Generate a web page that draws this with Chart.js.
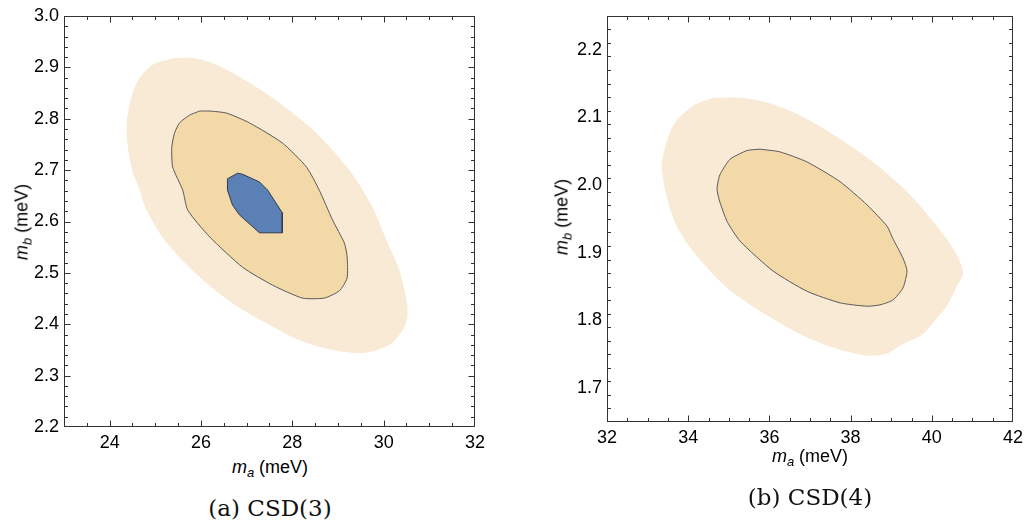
<!DOCTYPE html>
<html>
<head>
<meta charset="utf-8">
<script src="https://cdn.jsdelivr.net/npm/chart.js@4.4.1/dist/chart.umd.min.js"></script>
<style>
  body { margin: 0; background: #fff; }
  #wrap { position: relative; width: 1030px; height: 523px; overflow: hidden; }
  .box { position: absolute; }
  .lbl { position: absolute; font-family: "Liberation Sans", Arial, sans-serif; font-size: 18px; color: #000; white-space: nowrap; transform: translate(-50%, -50%); }
  .lbl sub { font-size: 13px; vertical-align: -4px; line-height: 0; }
  .rot { transform: translate(-50%, -50%) rotate(-90deg); }
  .cap { position: absolute; font-family: "DejaVu Serif", "Liberation Serif", serif; font-size: 23px; color: #111; white-space: nowrap; transform: translate(-50%, -50%); }
</style>
</head>
<body>
<div id="wrap">
  <div class="box" style="left:0;top:0"><canvas id="csd3" width="490" height="455"></canvas></div>
  <div class="box" style="left:540px;top:0"><canvas id="csd4" width="490" height="450"></canvas></div>

  <div class="lbl" style="left:270px;top:467px"><i>m</i><sub><i>a</i></sub> (meV)</div>
  <div class="lbl rot" style="left:22px;top:222px"><i>m</i><sub><i>b</i></sub> (meV)</div>
  <div class="cap" style="left:270px;top:508px">(a) CSD(3)</div>

  <div class="lbl" style="left:810px;top:456px"><i>m</i><sub><i>a</i></sub> (meV)</div>
  <div class="lbl rot" style="left:562px;top:217px"><i>m</i><sub><i>b</i></sub> (meV)</div>
  <div class="cap" style="left:810px;top:497px">(b) CSD(4)</div>
</div>

<script>
// CSD(3) contours (m_a, m_b in meV)
const csd3OuterMa = [25.38, 25.86, 26.34, 27.06, 27.78, 28.53, 29.25, 29.73, 30.06, 30.34, 30.51, 30.49, 30.19, 29.79, 29.47, 28.88, 28.16, 27.43, 26.69, 25.97, 25.25, 24.81, 24.62, 24.51, 24.38, 24.40, 24.59, 24.94];
const csd3OuterMb = [2.918, 2.918, 2.905, 2.870, 2.827, 2.772, 2.700, 2.632, 2.564, 2.506, 2.441, 2.402, 2.364, 2.348, 2.344, 2.350, 2.369, 2.402, 2.441, 2.492, 2.558, 2.622, 2.671, 2.694, 2.759, 2.811, 2.870, 2.905];

const csd3MidMa = [25.97, 26.19, 26.56, 27.06, 27.78, 28.31, 28.59, 28.88, 29.14, 29.20, 29.20, 29.03, 28.70, 28.22, 27.57, 26.91, 26.19, 25.71, 25.60, 25.38, 25.36, 25.42, 25.53, 25.75];
const csd3MidMb = [2.815, 2.815, 2.811, 2.792, 2.753, 2.706, 2.661, 2.603, 2.558, 2.531, 2.490, 2.465, 2.451, 2.451, 2.476, 2.511, 2.570, 2.622, 2.661, 2.706, 2.745, 2.772, 2.792, 2.807];

const csd3InnerMa = [26.80, 26.91, 27.28, 27.46, 27.78, 27.78, 27.28, 26.84, 26.69, 26.58, 26.58];
const csd3InnerMb = [2.694, 2.692, 2.677, 2.661, 2.617, 2.578, 2.578, 2.613, 2.632, 2.661, 2.683];

// CSD(4) contours
const csd4OuterMa = [34.61, 35.28, 35.94, 36.75, 37.74, 38.55, 39.39, 40.03, 40.57, 40.77, 40.62, 40.37, 40.13, 39.78, 39.22, 38.90, 38.40, 37.57, 36.75, 35.77, 34.96, 34.12, 33.72, 33.48, 33.35, 33.38, 33.63, 34.12];
const csd4OuterMb = [2.129, 2.129, 2.122, 2.103, 2.068, 2.034, 1.990, 1.946, 1.902, 1.870, 1.851, 1.821, 1.804, 1.780, 1.763, 1.751, 1.748, 1.760, 1.780, 1.814, 1.848, 1.902, 1.939, 1.980, 2.024, 2.044, 2.088, 2.117];

const csd4MidMa = [35.77, 36.26, 36.93, 37.74, 38.40, 38.90, 39.04, 39.29, 39.39, 39.29, 39.04, 38.72, 38.40, 37.74, 36.93, 36.09, 35.28, 34.96, 34.78, 34.71, 34.78, 35.03, 35.45];
const csd4MidMb = [2.053, 2.049, 2.034, 2.005, 1.971, 1.939, 1.921, 1.892, 1.873, 1.848, 1.830, 1.823, 1.821, 1.826, 1.843, 1.873, 1.917, 1.946, 1.975, 1.994, 2.015, 2.038, 2.051];

// tick labels
const csd3MaTicks = [24, 26, 28, 30, 32];
const csd3MbTicks = [2.2, 2.3, 2.4, 2.5, 2.6, 2.7, 2.8, 2.9, 3.0];
const csd4MaTicks = [32, 34, 36, 38, 40, 42];
const csd4MbTicks = [1.7, 1.8, 1.9, 2.0, 2.1, 2.2];

const outerColor = '#f8ead5';
const midColor = '#f3d8a8';
const innerColor = '#5b80b5';

function poly(xs, ys) {
    const pts = xs.map((x, i) => ({ x: x, y: ys[i] }));
    pts.push(pts[0]);
    return pts;
}

function region(xs, ys, fill, border, order, tension) {
    return {
        data: poly(xs, ys),
        showLine: true,
        fill: 'shape',
        backgroundColor: fill,
        borderColor: border || fill,
        borderWidth: border ? 1 : 0,
        pointRadius: 0,
        tension: tension,
        order: order
    };
}

// frame with inward ticks on all four sides
const frameTicks = {
    id: 'frameTicks',
    afterDatasetsDraw(chart, args, opts) {
        const { ctx, chartArea: a, scales: { x, y } } = chart;
        ctx.save();
        ctx.strokeStyle = '#333';
        ctx.lineWidth = 1;
        const L = Math.round(a.left) + 0.5, R = Math.round(a.right) - 0.5;
        const T = Math.round(a.top) + 0.5, B = Math.round(a.bottom) - 0.5;
        ctx.strokeRect(L, T, R - L, B - T);
        const isMajor = (v, list) => list.some(t => Math.abs(t - v) < 1e-6);
        ctx.beginPath();
        const nx = Math.round((x.max - x.min) / opts.xMinor);
        for (let i = 1; i < nx; i++) {
            const v = x.min + i * opts.xMinor;
            const len = isMajor(v, opts.xMajor) ? 6 : 3.5;
            const px = Math.round(x.getPixelForValue(v)) + 0.5;
            ctx.moveTo(px, B); ctx.lineTo(px, B - len);
            ctx.moveTo(px, T); ctx.lineTo(px, T + len);
        }
        const ny = Math.round((y.max - y.min) / opts.yMinor);
        for (let i = 1; i < ny; i++) {
            const v = y.min + i * opts.yMinor;
            const len = isMajor(v, opts.yMajor) ? 6 : 3.5;
            const py = Math.round(y.getPixelForValue(v)) + 0.5;
            ctx.moveTo(L, py); ctx.lineTo(L + len, py);
            ctx.moveTo(R, py); ctx.lineTo(R - len, py);
        }
        ctx.stroke();
        ctx.restore();
    }
};

const tickFont = { family: '"Liberation Sans", Arial, sans-serif', size: 18 };

function makeChart(id, datasets, c) {
    return new Chart(document.getElementById(id), {
        type: 'scatter',
        data: { datasets: datasets },
        options: {
            responsive: false,
            animation: false,
            events: [],
            layout: { padding: c.padding },
            plugins: {
                legend: { display: false },
                tooltip: { enabled: false },
                frameTicks: { xMinor: 0.5, yMinor: 0.02, xMajor: c.xTicks, yMajor: c.yTicks }
            },
            scales: {
                x: {
                    type: 'linear', min: c.xMin, max: c.xMax,
                    afterBuildTicks: s => { s.ticks = c.xTicks.map(v => ({ value: v })); },
                    afterFit: s => { s.height = c.xHeight; },
                    ticks: { font: tickFont, color: '#000', padding: 5, maxRotation: 0, autoSkip: false, callback: v => String(v) },
                    grid: { display: false, drawTicks: false },
                    border: { display: false }
                },
                y: {
                    type: 'linear', min: c.yMin, max: c.yMax,
                    afterBuildTicks: s => { s.ticks = c.yTicks.map(v => ({ value: v })); },
                    afterFit: s => { s.width = c.yWidth; },
                    ticks: { font: tickFont, color: '#000', padding: 5, autoSkip: false, callback: v => Number(v).toFixed(1) },
                    grid: { display: false, drawTicks: false },
                    border: { display: false }
                }
            }
        },
        plugins: [frameTicks]
    });
}

makeChart('csd3', [
    region(csd3OuterMa, csd3OuterMb, outerColor, null, 3, 0.3),
    region(csd3MidMa, csd3MidMb, midColor, '#5a5a5a', 2, 0.2),
    region(csd3InnerMa, csd3InnerMb, innerColor, '#2f3b4f', 1, 0)
], { xMin: 23, xMax: 32, yMin: 2.2, yMax: 3.0, xTicks: csd3MaTicks, yTicks: csd3MbTicks,
     padding: { top: 16, right: 14, left: 0, bottom: 0 }, yWidth: 64, xHeight: 28 });

makeChart('csd4', [
    region(csd4OuterMa, csd4OuterMb, outerColor, null, 2, 0.3),
    region(csd4MidMa, csd4MidMb, midColor, '#5a5a5a', 1, 0.2)
], { xMin: 32, xMax: 42, yMin: 1.65, yMax: 2.25, xTicks: csd4MaTicks, yTicks: csd4MbTicks,
     padding: { top: 13, right: 17, left: 0, bottom: 0 }, yWidth: 67, xHeight: 28 });
</script>
</body>
</html>
